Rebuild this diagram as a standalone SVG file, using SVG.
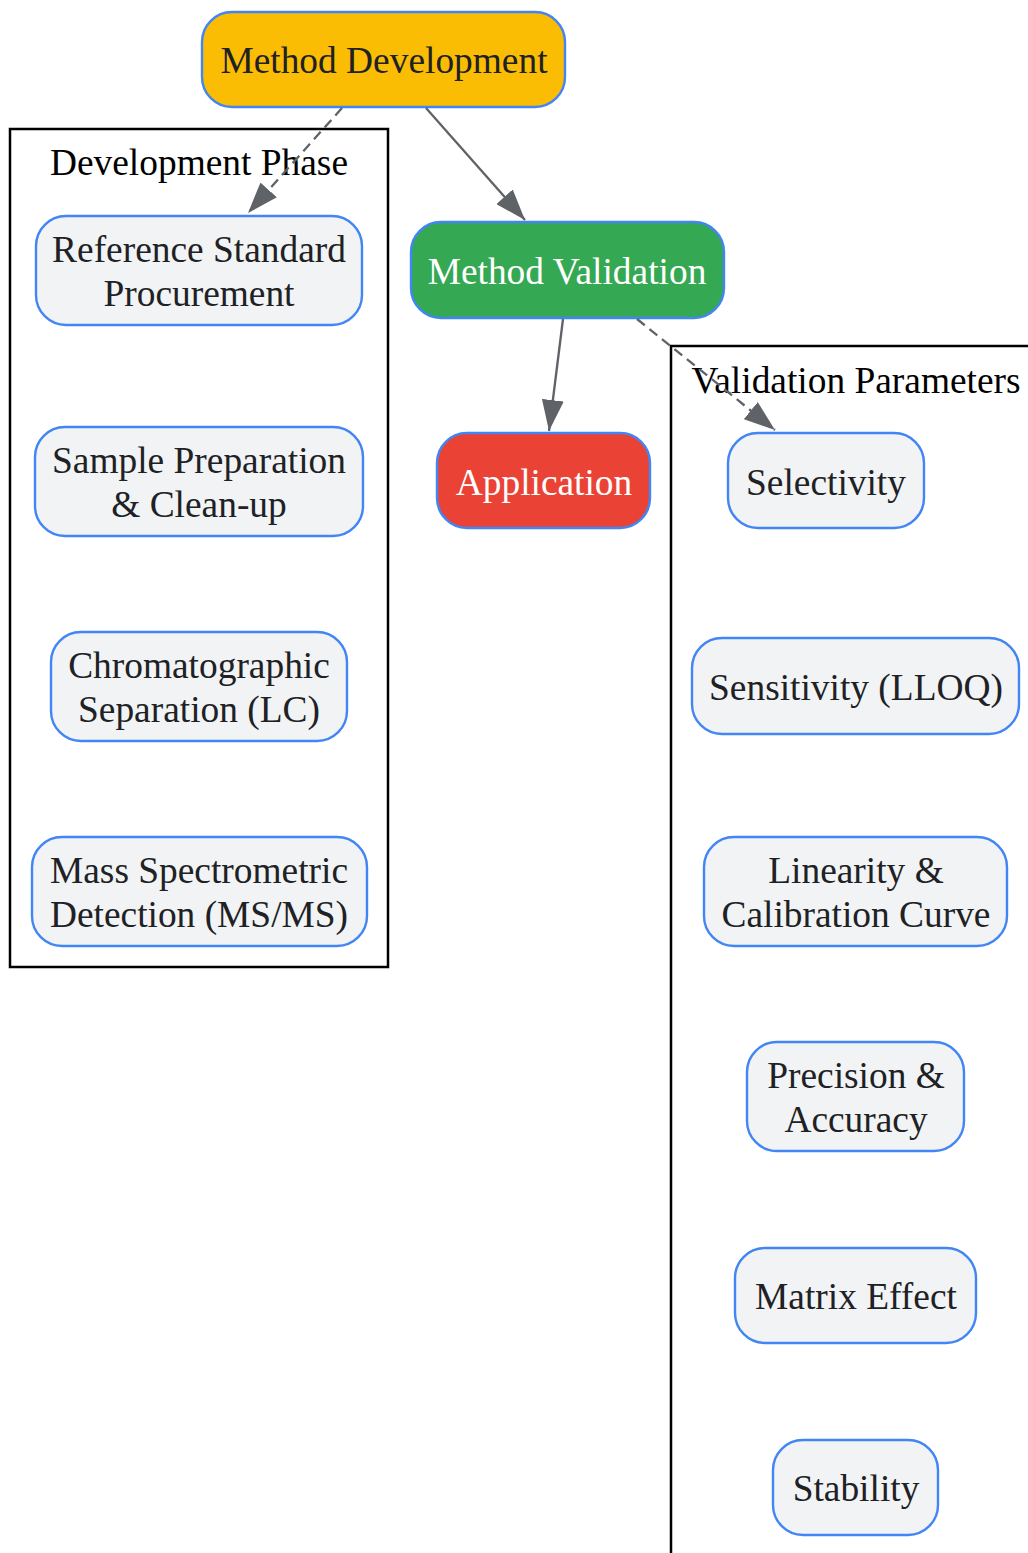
<svg xmlns="http://www.w3.org/2000/svg" width="1028" height="1553" viewBox="0 0 1028 1553">
<style>
text{font-family:"Liberation Serif","Times New Roman",serif;font-size:37.4px;text-anchor:middle;fill:#202124}
.cl{fill:#fff;stroke:#000;stroke-width:2.5}
.cl-t{fill:#000}
.n{fill:#F1F3F4;stroke:#4285F4;stroke-width:2.4}
.w{fill:#fff}
.e{fill:none;stroke:#5F6368;stroke-width:2.3}
.d{stroke-dasharray:10,6}
</style>
<defs>
<marker id="ah" markerUnits="userSpaceOnUse" markerWidth="31" markerHeight="22" refX="31" refY="11" orient="auto">
<path d="M0,0 L31,11 L0,22 z" fill="#5F6368"/>
</marker>
</defs>
<g id="cluster_dev">
<rect class="cl" x="10" y="129" width="378" height="838"/>
<text class="cl-t" x="199" y="175">Development Phase</text>
</g>
<g id="cluster_val">
<rect class="cl" x="671" y="346" width="370" height="1220"/>
<text class="cl-t" x="856" y="393">Validation Parameters</text>
</g>
<g id="method_development">
<rect x="202" y="12" width="363" height="95" rx="30" fill="#FBBC04" stroke="#4285F4" stroke-width="2.4"/>
<text x="384" y="73">Method Development</text>
</g>
<g id="method_validation">
<rect x="411" y="222" width="313" height="96" rx="30" fill="#34A853" stroke="#4285F4" stroke-width="2.4"/>
<text class="w" x="567" y="284">Method Validation</text>
</g>
<g id="application">
<rect x="437" y="433" width="213" height="95" rx="30" fill="#EA4335" stroke="#4285F4" stroke-width="2.4"/>
<text class="w" x="544" y="495">Application</text>
</g>
<g id="ref_std">
<rect class="n" x="36" y="216" width="326" height="109" rx="30"/>
<text x="199" y="262">Reference Standard</text>
<text x="199" y="306">Procurement</text>
</g>
<g id="sample_prep">
<rect class="n" x="35" y="427" width="328" height="109" rx="30"/>
<text x="199" y="473">Sample Preparation</text>
<text x="199" y="517">&amp; Clean-up</text>
</g>
<g id="chrom_sep">
<rect class="n" x="51" y="632" width="296" height="109" rx="30"/>
<text x="199" y="678">Chromatographic</text>
<text x="199" y="722">Separation (LC)</text>
</g>
<g id="ms_detect">
<rect class="n" x="32" y="837" width="335" height="109" rx="30"/>
<text x="199" y="883">Mass Spectrometric</text>
<text x="199" y="927">Detection (MS/MS)</text>
</g>
<g id="selectivity">
<rect class="n" x="728" y="433" width="196" height="95" rx="30"/>
<text x="826" y="495">Selectivity</text>
</g>
<g id="sensitivity">
<rect class="n" x="692" y="638" width="327" height="96" rx="30"/>
<text x="856" y="700">Sensitivity (LLOQ)</text>
</g>
<g id="linearity">
<rect class="n" x="704" y="837" width="303" height="109" rx="30"/>
<text x="856" y="883">Linearity &amp;</text>
<text x="856" y="927">Calibration Curve</text>
</g>
<g id="precision">
<rect class="n" x="747" y="1042" width="217" height="109" rx="30"/>
<text x="856" y="1088">Precision &amp;</text>
<text x="856" y="1132">Accuracy</text>
</g>
<g id="matrix">
<rect class="n" x="735" y="1248" width="241" height="95" rx="30"/>
<text x="856" y="1309">Matrix Effect</text>
</g>
<g id="stability">
<rect class="n" x="773" y="1440" width="165" height="95" rx="30"/>
<text x="856" y="1501">Stability</text>
</g>
<g id="edges">
<path class="e d" d="M342,108 L248,213" marker-end="url(#ah)"/>
<path class="e" d="M426,108 L525,220" marker-end="url(#ah)"/>
<path class="e" d="M563,319 L549,431" marker-end="url(#ah)"/>
<path class="e d" d="M637,319 L775,430" marker-end="url(#ah)"/>
</g>
</svg>
